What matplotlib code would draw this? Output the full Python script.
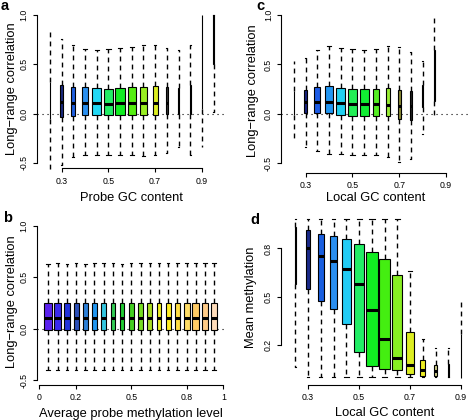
import matplotlib
matplotlib.use('Agg')
import matplotlib.pyplot as plt

plt.rcParams['font.family'] = ['Liberation Sans', 'DejaVu Sans']

# ---------------- data ----------------
# Panel a: long-range correlation by probe GC content
a_pos = [0.25, 0.30, 0.35, 0.40, 0.45, 0.50, 0.55, 0.60, 0.65, 0.70, 0.75, 0.80, 0.85, 0.90, 0.95]
a_q3 = [0.32, 0.29, 0.27, 0.265, 0.255, 0.25, 0.26, 0.27, 0.27, 0.28, 0.265, 0.255, 0.29, 1.00, 1.00]
a_med = [0.13, 0.12, 0.105, 0.105, 0.105, 0.10, 0.105, 0.105, 0.105, 0.108, 0.11, 0.11, 0.12, 0.50, 0.80]
a_q1 = [-0.05, -0.035, -0.02, -0.01, -0.01, -0.01, -0.01, -0.01, -0.01, -0.01, 0.0, 0.0, 0.0, 0.05, 0.50]
a_hi = [0.86, 0.76, 0.70, 0.66, 0.645, 0.655, 0.67, 0.68, 0.70, 0.70, 0.67, 0.65, 0.70, 1.00, 1.00]
a_lo = [-0.59, -0.52, -0.44, -0.42, -0.415, -0.415, -0.425, -0.425, -0.43, -0.415, -0.40, -0.34, -0.425, -0.34, 0.017]

# Panel b: long-range correlation by average probe methylation level
b_pos = [0.05, 0.10, 0.15, 0.20, 0.25, 0.30, 0.35, 0.40, 0.45, 0.50,
         0.55, 0.60, 0.65, 0.70, 0.75, 0.80, 0.85, 0.90, 0.95]
b_q3 = [0.25] * 19
b_med = [0.10] * 19
b_q1 = [-0.01] * 19
b_hi = [0.63, 0.635, 0.63, 0.635, 0.63, 0.635, 0.64, 0.635, 0.63, 0.635,
        0.635, 0.635, 0.635, 0.635, 0.64, 0.64, 0.635, 0.635, 0.635]
b_lo = [-0.40] * 19

# Panel c: long-range correlation by local GC content
c_pos = [0.25, 0.30, 0.35, 0.40, 0.45, 0.50, 0.55, 0.60, 0.65, 0.70, 0.75, 0.80, 0.85]
c_q3 = [0.227, 0.24, 0.27, 0.28, 0.26, 0.255, 0.25, 0.25, 0.264, 0.245, 0.23, 0.29, 0.645]
c_med = [0.10, 0.12, 0.118, 0.118, 0.108, 0.095, 0.095, 0.095, 0.091, 0.075, 0.08, 0.18, 0.40]
c_q1 = [-0.007, 0.01, 0.006, 0.006, -0.007, -0.017, -0.017, -0.017, -0.017, -0.05, -0.06, 0.07, 0.135]
c_hi = [0.535, 0.57, 0.65, 0.685, 0.67, 0.66, 0.65, 0.655, 0.69, 0.68, 0.63, 0.53, 1.00]
c_lo = [-0.27, -0.33, -0.38, -0.41, -0.41, -0.42, -0.42, -0.42, -0.44, -0.49, -0.46, -0.20, -0.017]

# Panel d: mean methylation by local GC content
d_pos = [0.25, 0.30, 0.35, 0.40, 0.45, 0.50, 0.55, 0.60, 0.65, 0.70, 0.75, 0.80, 0.85, 0.90]
d_q3 = [0.93, 0.913, 0.89, 0.877, 0.856, 0.825, 0.78, 0.735, 0.638, 0.283, 0.107, 0.08, 0.086, 0.27]
d_med = [0.75, 0.80, 0.755, 0.72, 0.675, 0.583, 0.417, 0.24, 0.12, 0.076, 0.05, 0.04, 0.04, 0.10]
d_q1 = [0.58, 0.547, 0.475, 0.425, 0.33, 0.16, 0.074, 0.055, 0.045, 0.024, 0.01, 0.008, 0.005, 0.0]
d_hi = [0.985, 0.985, 0.985, 0.985, 0.985, 0.985, 0.985, 0.985, 0.985, 0.66, 0.24, 0.185, 0.185, 0.47]
d_lo = [0.066, 0.005, 0.005, 0.005, 0.005, 0.005, 0.005, 0.005, 0.005, 0.005, 0.005, 0.005, 0.005, 0.0]

# ---------------- styles ----------------
a_colors = ['#1a1a6e', '#1b2a80', '#1f5fe0', '#2a8ff0', '#22d8f5', '#22ee66', '#11ee22',
            '#55ee11', '#99ee22', '#ddee22', '#333333', '#333333', '#333333', '#333333', '#333333']
a_wpx = [0.7, 2.2, 4, 6.5, 8.5, 9.5, 9.5, 8.5, 6.5, 5, 1.5, 1.2, 1.2, 0.6, 0.6]

b_colors = ['#5b22ee', '#3a2aee', '#2233dd', '#2c50b8', '#2c80d8', '#2196f0', '#33c6e0',
            '#33cc55', '#22cc33', '#44d022', '#77dd22', '#aadd22', '#eeee22', '#ffee22',
            '#ffdd44', '#ffdd66', '#ffcc66', '#ffcc88', '#ffddbb']
b_wpx = [8, 7, 5.5, 5, 5, 5, 5, 4.5, 4.5, 4.5, 4.5, 4.5, 4.5, 5, 5.5, 6, 6.5, 6.5, 6.5]

c_colors = ['#333333', '#1a237e', '#1d5ce6', '#2196f3', '#22d0f0', '#22ee55', '#11ee33',
            '#55ee22', '#99ee33', '#888833', '#222222', '#888888', '#222222']
c_wpx = [0.7, 3, 6, 7.3, 8.7, 9.3, 8.7, 6.7, 4, 3.3, 2.2, 1.4, 0.6]

d_colors = ['#222222', '#1a2a8a', '#1a5fe0', '#2b8ff0', '#22ccf5', '#22ee66', '#11ee22',
            '#44ee11', '#88ee22', '#ddee22', '#eeee22', '#cccc88', '#222222', '#222222']
d_wpx = [0.7, 4, 6, 7.3, 9.3, 10, 11.3, 11.3, 10, 7.3, 4.7, 2.7, 1.0, 0.6]

W, H = 471, 420
fig = plt.figure(figsize=(W / 100, H / 100), dpi=100)

LABEL_FS = 9.3
TICK_FS = 6.3
LW = 0.8


def add_axes_px(left, top, right, bottom):
    return fig.add_axes([left / W, 1 - bottom / H, (right - left) / W, (bottom - top) / H])


def draw_panel(ax, pos, q1, med, q3, lo, hi, wpx, colors, xlim, ylim, zero_line=True):
    ax.set_xlim(*xlim)
    ax.set_ylim(*ylim)
    bbox = ax.get_position()
    px_per_unit = bbox.width * W / (xlim[1] - xlim[0])
    widths = [w / px_per_unit for w in wpx]
    stats = [dict(med=m, q1=a, q3=b, whislo=l, whishi=h, fliers=[])
             for a, m, b, l, h in zip(q1, med, q3, lo, hi)]
    if zero_line:
        ax.axhline(0, color='black', lw=LW, linestyle=(0, (1, 3.5)), zorder=0.5)
    bp = ax.bxp(stats, positions=pos, widths=widths, capwidths=[w * 0.5 for w in widths],
                patch_artist=True, showfliers=False, manage_ticks=False,
                boxprops=dict(edgecolor='black', linewidth=LW),
                whiskerprops=dict(color='black', linewidth=1.0, linestyle=(0, (3.5, 3))),
                capprops=dict(color='black', linewidth=LW),
                medianprops=dict(color='black', linewidth=2.2, solid_capstyle='butt'))
    for patch, col in zip(bp['boxes'], colors):
        patch.set_facecolor(col)
    for key in ('boxes', 'whiskers', 'caps', 'medians'):
        for art in bp[key]:
            art.set_clip_on(False)
    for s in ('top', 'right'):
        ax.spines[s].set_visible(False)
    for s in ('left', 'bottom'):
        ax.spines[s].set_linewidth(LW)
    ax.tick_params(length=3, width=LW, pad=3, labelsize=TICK_FS)
    ax.tick_params(axis='y', labelrotation=90)
    ax.patch.set_visible(False)


def finish_axes(ax, xticks, xlabels, xb, yticks, ylabels, yb):
    ax.set_xticks(xticks, xlabels)
    ax.set_yticks(yticks, ylabels)
    ax.spines['bottom'].set_bounds(*xb)
    ax.spines['left'].set_bounds(*yb)
    for lbl in ax.get_yticklabels():
        lbl.set_va('center')


# Panel a
ax_a = add_axes_px(37, 9.1, 226.5, 168.4)
draw_panel(ax_a, a_pos, a_q1, a_med, a_q3, a_lo, a_hi, a_wpx, a_colors, (0.195, 1.005), (-0.556, 1.06))
finish_axes(ax_a, [0.3, 0.5, 0.7, 0.9], ['0.3', '0.5', '0.7', '0.9'], (0.3, 0.9),
            [-0.5, 0.0, 0.5, 1.0], ['-0.5', '0.0', '0.5', '1.0'], (-0.5, 1.0))

# Panel b
ax_b = add_axes_px(36.9, 219.5, 225.7, 385)
draw_panel(ax_b, b_pos, b_q1, b_med, b_q3, b_lo, b_hi, b_wpx, b_colors, (-0.013, 1.013), (-0.548, 1.06))
finish_axes(ax_b, [0, 0.2, 0.5, 0.8, 1.0], ['0', '0.2', '0.5', '0.8', '1'], (0, 1),
            [-0.5, 0.0, 0.5, 1.0], ['-0.5', '0.0', '0.5', '1.0'], (-0.5, 1.0))

# Panel c
ax_c = add_axes_px(281.2, 9.1, 470.5, 172.7)
draw_panel(ax_c, c_pos, c_q1, c_med, c_q3, c_lo, c_hi, c_wpx, c_colors, (0.195, 1.005), (-0.595, 1.06))
finish_axes(ax_c, [0.3, 0.5, 0.7, 0.9], ['0.3', '0.5', '0.7', '0.9'], (0.3, 0.9),
            [-0.5, 0.0, 0.5, 1.0], ['-0.5', '0.0', '0.5', '1.0'], (-0.5, 1.0))

# Panel d
ax_d = add_axes_px(281.4, 209.7, 487.8, 385)
draw_panel(ax_d, d_pos, d_q1, d_med, d_q3, d_lo, d_hi, d_wpx, d_colors, (0.195, 1.005), (-0.045, 1.04),
           zero_line=False)
finish_axes(ax_d, [0.3, 0.5, 0.7, 0.9], ['0.3', '0.5', '0.7', '0.9'], (0.3, 0.9),
            [0.2, 0.5, 0.8], ['0.2', '0.5', '0.8'], (0.2, 0.8))


def ftext(x, y, s, **kw):
    fig.text(x / W, 1 - y / H, s, **kw)


# axis labels
ftext(131.7, 197.7, 'Probe GC content', ha='center', va='center', fontsize=LABEL_FS)
ftext(12, 88.7, 'Long\u2212range correlation', ha='center', va='center', rotation=90, fontsize=LABEL_FS)
ftext(131.3, 414.3, 'Average probe methylation level', ha='center', va='center', fontsize=LABEL_FS)
ftext(12, 302, 'Long\u2212range correlation', ha='center', va='center', rotation=90, fontsize=LABEL_FS)
ftext(375.9, 198, 'Local GC content', ha='center', va='center', fontsize=LABEL_FS)
ftext(253.3, 90.9, 'Long\u2212range correlation', ha='center', va='center', rotation=90, fontsize=LABEL_FS)
ftext(384.6, 413.3, 'Local GC content', ha='center', va='center', fontsize=LABEL_FS)
ftext(251, 297.4, 'Mean methylation', ha='center', va='center', rotation=90, fontsize=LABEL_FS)

# panel letters
ftext(4.5, 6.5, 'a', ha='center', va='center', fontsize=10.5, fontweight='bold')
ftext(7.3, 218, 'b', ha='center', va='center', fontsize=10.5, fontweight='bold')
ftext(260, 6.5, 'c', ha='center', va='center', fontsize=10.5, fontweight='bold')
ftext(255, 220, 'd', ha='center', va='center', fontsize=10.5, fontweight='bold')

fig.savefig('out.png', dpi=100)
